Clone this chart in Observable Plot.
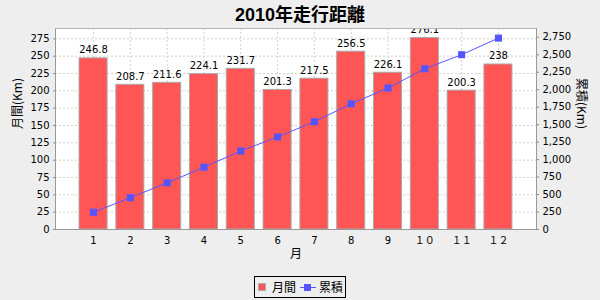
<!DOCTYPE html>
<html>
<head>
<meta charset="utf-8">
<script src="https://cdn.jsdelivr.net/npm/d3@7"></script>
<script src="https://cdn.jsdelivr.net/npm/@observablehq/plot@0.6"></script>
<style>
  * { box-sizing: border-box; }
  html, body { margin: 0; padding: 0; background: #EEEEEE; }
  #wrap { position: relative; width: 600px; height: 300px; overflow: hidden; }
  #title { position: absolute; left: 0; top: 0; width: 600px; height: 26px; line-height: 26px;
    text-align: center; font: bold 18px "Liberation Sans", "Noto Sans CJK JP", sans-serif; color: #000; }
  #chart { position: absolute; left: 0; top: 0; }
  #legend { position: absolute; left: 254px; top: 276px; width: 92px; height: 22px;
    border: 1px solid #000; font: 12px "Noto Sans CJK JP", sans-serif; color: #000; }
  #legend .sw { position: absolute; }
  #legend .lb { position: absolute; top: 2px; line-height: 16px; }
</style>
</head>
<body>
<div id="wrap">
  <div id="chart"></div>
  <div id="title">2010年走行距離</div>
  <div id="legend"></div>
</div>
<script>
// ---- data ----
const title = "2010年走行距離";
const months = ["1", "2", "3", "4", "5", "6", "7", "8", "9", "１０", "１１", "１２"];
const monthly = [246.8, 208.7, 211.6, 224.1, 231.7, 201.3, 217.5, 256.5, 226.1, 276.1, 200.3, 238];
const cumulative = [246.8, 455.5, 667.1, 891.2, 1122.9, 1324.2, 1541.7, 1798.2, 2024.3, 2300.4, 2500.7, 2738.7];
const leftTicks = [0, 25, 50, 75, 100, 125, 150, 175, 200, 225, 250, 275];
const rightTicks = [0, 250, 500, 750, 1000, 1250, 1500, 1750, 2000, 2250, 2500, 2750];
const seriesNames = ["月間", "累積"];
const axisLabels = { x: "月", left: "月間(Km)", right: "累積(Km)" };
const leftMax = 289.9;   // left axis upper bound
const rightMax = 2875.6; // right axis upper bound

const k = leftMax / rightMax; // maps right-axis values onto the shared y scale
const data = months.map((m, i) => ({ month: m, monthly: monthly[i], cumulative: cumulative[i] }));
const fmt = d3.format(",");

const RED = "#FF5555", BLUE = "#5555FF";
const FONT = "DejaVu Sans, Noto Sans CJK JP, sans-serif";
const CJK = "Noto Sans CJK JP, DejaVu Sans, sans-serif";

const chart = Plot.plot({
  width: 600,
  height: 300,
  marginTop: 28,
  marginRight: 64,
  marginBottom: 71,
  marginLeft: 55,
  style: { background: "transparent", fontFamily: FONT, fontSize: "10px", color: "#000", overflow: "visible" },
  x: { domain: months, paddingInner: 0.238, paddingOuter: 0.653, round: false, axis: null },
  y: { domain: [0, leftMax], axis: null },
  marks: [
    Plot.frame({ fill: "white", stroke: null }),
    Plot.gridY(leftTicks, { stroke: "#d0d0d0", strokeOpacity: 1, strokeDasharray: "2,2" }),
    Plot.gridX(months, { stroke: "#d0d0d0", strokeOpacity: 1, strokeDasharray: "2,2" }),
    Plot.barY(data, { x: "month", y: "monthly", fill: RED, stroke: "#aaaaaa", strokeWidth: 1 }),
    Plot.text(data, { x: "month", y: "monthly", text: d => String(d.monthly), lineAnchor: "bottom", dy: -5,
      clip: true, fill: "#000", fontSize: 10 }),
    Plot.line(data, { x: "month", y: d => d.cumulative * k, stroke: BLUE, strokeWidth: 1 }),
    Plot.dot(data, { x: "month", y: d => d.cumulative * k, symbol: "square", r: 4, fill: BLUE, stroke: null }),
    Plot.frame({ stroke: "#999" }),
    Plot.ruleY([leftMax], { stroke: "#b4b4b4" }),
    Plot.axisY(leftTicks, { anchor: "left", tickSize: 2, tickPadding: 4, stroke: "#888", fill: "#000", label: null }),
    Plot.axisY(rightTicks.map(v => v * k), { anchor: "right", tickSize: 2, tickPadding: 4, stroke: "#888", fill: "#000",
      tickFormat: d => fmt(Math.round(d / k)), label: null }),
    Plot.axisX({ tickSize: 0, tickPadding: 7, fill: "#000", label: null }),
    Plot.text([axisLabels.left], { frameAnchor: "left", dx: -37, rotate: -90, fontSize: 12, fontFamily: CJK, fill: "#000" }),
    Plot.text([axisLabels.right], { frameAnchor: "right", dx: 44, rotate: 90, fontSize: 12, fontFamily: CJK, fill: "#000" }),
    Plot.text([axisLabels.x], { frameAnchor: "bottom", dy: 28, fontSize: 12, fontFamily: CJK, fill: "#000" })
  ]
});
document.getElementById("chart").appendChild(chart);
document.getElementById("title").textContent = title;

// legend
const lg = document.getElementById("legend");
lg.innerHTML = `
  <div class="sw" style="left:3px;top:6px;width:8px;height:8px;background:${RED};border:1px solid #aaa"></div>
  <div class="lb" style="left:17px">${seriesNames[0]}</div>
  <div class="sw" style="left:45px;top:10px;width:16px;height:1px;background:${BLUE}"></div>
  <div class="sw" style="left:49px;top:7px;width:7px;height:7px;background:${BLUE}"></div>
  <div class="lb" style="left:64px">${seriesNames[1]}</div>`;
</script>
</body>
</html>
